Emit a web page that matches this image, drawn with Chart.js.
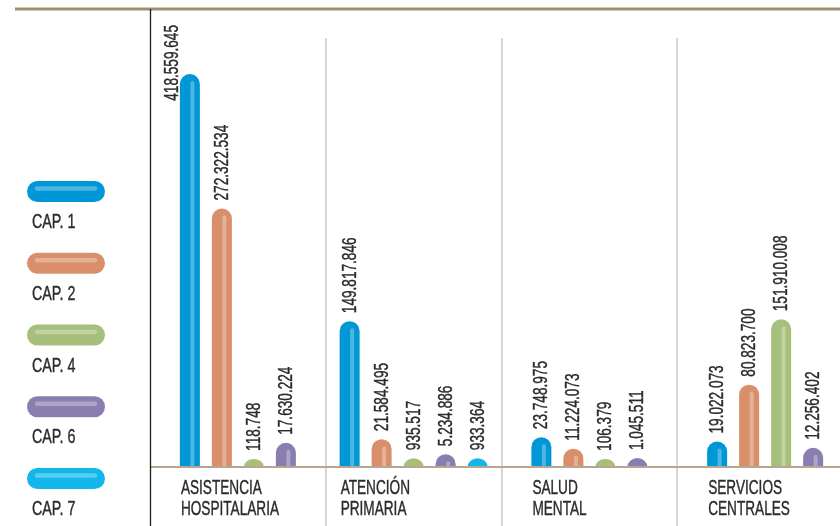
<!DOCTYPE html>
<html>
<head>
<meta charset="utf-8">
<script src="https://cdn.jsdelivr.net/npm/chart.js@4.4.1/dist/chart.umd.min.js"></script>
<style>
  html, body { margin: 0; padding: 0; background: #fff; overflow: hidden; }
  #wrap { width: 870px; height: 526px; }
</style>
</head>
<body>
<div id="wrap"><canvas id="chart" width="870" height="526"></canvas></div>
<script>
// ===== DATA =====
const categories = [['ASISTENCIA', 'HOSPITALARIA'], ['ATENCIÓN', 'PRIMARIA'], ['SALUD', 'MENTAL'], ['SERVICIOS', 'CENTRALES']];
const seriesNames = ['CAP. 1', 'CAP. 2', 'CAP. 4', 'CAP. 6', 'CAP. 7'];
const cap1 = [418559645, 149817846, 23748975, 19022073];
const cap2 = [272322534, 21584495, 11224073, 80823700];
const cap4 = [118748, 935517, 106379, 151910008];
const cap6 = [17630224, 5234886, 1045511, 12256402];
const cap7 = [null, 933364, null, null];

const seriesColors = ['#0097d7', '#d98f6a', '#a6bf7b', '#8a7eb1', '#12b6e9'];
const FONT = '"Liberation Sans Narrow", "Liberation Sans", Arial, sans-serif';
const TEXT = '#2b2b2b';
const CAP = 8;      // rounded cap sits above the value point
const PILL = 0.625; // pill width inside its slot

function fmt(v) {
  return String(v).replace(/\B(?=(\d{3})+(?!\d))/g, '.');
}

// narrow the text like the condensed face of the original
let sx = 1;
(function () {
  const c = document.createElement('canvas').getContext('2d');
  c.font = '20px ' + FONT;
  sx = 81 / c.measureText('ASISTENCIA').width;
})();

function squeezedText(ctx, txt, x, y, rot) {
  ctx.save();
  ctx.translate(x, y);
  if (rot) ctx.rotate(rot);
  ctx.scale(sx, 1);
  ctx.fillText(txt, 0, 0);
  ctx.strokeText(txt, 0, 0);
  ctx.restore();
}

function drawPill(ctx, cx, top, base, w, color) {
  const r = w / 2;
  const h = base - top;
  ctx.fillStyle = color;
  ctx.beginPath();
  if (h >= r) {
    ctx.moveTo(cx - r, base);
    ctx.lineTo(cx - r, top + r);
    ctx.arc(cx, top + r, r, Math.PI, 0);
    ctx.lineTo(cx + r, base);
  } else {
    ctx.ellipse(cx, base, r, h, 0, Math.PI, 2 * Math.PI);
  }
  ctx.closePath();
  ctx.fill();
  const y0 = top + 9;
  if (base - 2 - y0 > 0) {
    ctx.strokeStyle = 'rgba(255,255,255,0.3)';
    ctx.lineWidth = 4;
    ctx.lineCap = 'round';
    ctx.beginPath();
    ctx.moveTo(cx + 2.5, y0);
    ctx.lineTo(cx + 2.5, base - 2);
    ctx.stroke();
  }
}

const pills = {
  id: 'pills',
  beforeDatasetsDraw(chart) {
    const { ctx, chartArea, scales: { x } } = chart;
    ctx.save();
    // group separators
    ctx.strokeStyle = '#c8c8c8';
    ctx.lineWidth = 1.5;
    for (let i = 0; i < categories.length - 1; i++) {
      const px = Math.round((x.getPixelForValue(i) + x.getPixelForValue(i + 1)) / 2);
      ctx.beginPath();
      ctx.moveTo(px, chartArea.top);
      ctx.lineTo(px, chart.height);
      ctx.stroke();
    }
    chart.data.datasets.forEach((ds, di) => {
      chart.getDatasetMeta(di).data.forEach((bar, i) => {
        if (ds.data[i] == null) return;
        drawPill(ctx, bar.x, bar.y - CAP, bar.base, bar.width * PILL, ds.backgroundColor);
      });
    });
    ctx.restore();
    return false;
  },
  afterDraw(chart) {
    const { ctx, chartArea } = chart;
    ctx.save();
    // baseline
    ctx.strokeStyle = '#b8a690';
    ctx.lineWidth = 2;
    ctx.beginPath();
    ctx.moveTo(chartArea.left, chartArea.bottom);
    ctx.lineTo(chart.width, chartArea.bottom);
    ctx.stroke();
    // top rule
    ctx.strokeStyle = '#a38d70';
    ctx.lineWidth = 3;
    ctx.beginPath();
    ctx.moveTo(15, 9);
    ctx.lineTo(chart.width, 9);
    ctx.stroke();
    // left axis line
    ctx.strokeStyle = '#1e1e1e';
    ctx.lineWidth = 1.3;
    ctx.beginPath();
    ctx.moveTo(chartArea.left + 0.5, 9);
    ctx.lineTo(chartArea.left + 0.5, chart.height);
    ctx.stroke();

    ctx.fillStyle = TEXT;
    ctx.strokeStyle = TEXT;
    ctx.lineWidth = 0.4;
    ctx.font = '20px ' + FONT;
    ctx.textAlign = 'left';
    ctx.textBaseline = 'alphabetic';

    // value labels
    chart.data.datasets.forEach((ds, di) => {
      chart.getDatasetMeta(di).data.forEach((bar, i) => {
        const v = ds.data[i];
        if (v == null) return;
        const txt = fmt(v);
        const tw = ctx.measureText(txt).width * sx;
        let bx = bar.x + 6;
        let by = bar.y - CAP - 8;
        if (by - tw < 22) {
          bx = bar.x - bar.width * PILL / 2 - 2;
          by = 25 + tw;
        }
        squeezedText(ctx, txt, bx, by, -Math.PI / 2);
      });
    });

    // category labels
    const first = chart.getDatasetMeta(0).data;
    categories.forEach((lines, i) => {
      const lx = first[i].x - first[i].width * PILL / 2 + 1;
      lines.forEach((ln, k) => squeezedText(ctx, ln, lx, 494 + k * 21));
    });

    // legend
    ctx.font = '21px ' + FONT;
    chart.data.datasets.forEach((ds, di) => {
      const top = 181 + di * 71.75;
      ctx.fillStyle = ds.backgroundColor;
      ctx.beginPath();
      ctx.roundRect(27, top, 78, 21, 10.5);
      ctx.fill();
      ctx.save();
      ctx.strokeStyle = 'rgba(255,255,255,0.3)';
      ctx.lineWidth = 4.5;
      ctx.lineCap = 'round';
      ctx.beginPath();
      ctx.moveTo(37, top + 7.5);
      ctx.lineTo(95, top + 7.5);
      ctx.stroke();
      ctx.restore();
      ctx.fillStyle = TEXT;
      squeezedText(ctx, ds.label, 32, top + 47);
    });
    ctx.restore();
  }
};

const seriesValues = [cap1, cap2, cap4, cap6, cap7];

new Chart(document.getElementById('chart'), {
  type: 'bar',
  data: {
    labels: categories,
    datasets: seriesNames.map((name, i) => ({
      label: name,
      data: seriesValues[i],
      backgroundColor: seriesColors[i],
      skipNull: true,
      barThickness: 32
    }))
  },
  options: {
    responsive: false,
    animation: false,
    devicePixelRatio: 1,
    layout: { padding: { left: 150, top: 38, right: 17, bottom: 59 } },
    plugins: { legend: { display: false }, tooltip: { enabled: false } },
    scales: {
      x: { display: false },
      y: { display: false, min: 0, max: 466400000 }
    }
  },
  plugins: [pills]
});
</script>
</body>
</html>
